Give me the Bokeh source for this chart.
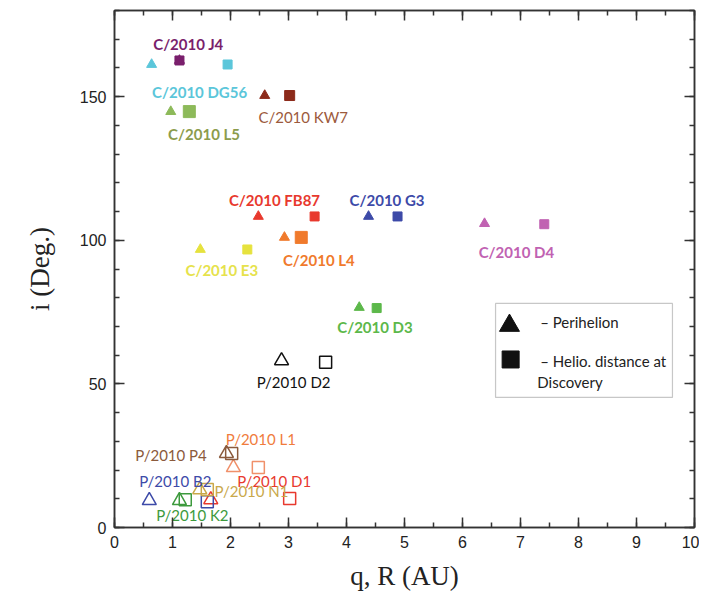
from bokeh.plotting import figure
from bokeh.models import LinearAxis, Range1d, Label, BoxAnnotation, ColumnDataSource, SingleIntervalTicker
from bokeh.core.properties import value
from bokeh.embed import file_html
from bokeh.resources import INLINE

# ---------------- data ----------------
comets = ["C/2010 J4", "C/2010 DG56", "C/2010 KW7", "C/2010 L5", "C/2010 FB87",
          "C/2010 G3", "C/2010 L4", "C/2010 E3", "C/2010 D4", "C/2010 D3",
          "P/2010 D2", "P/2010 P4", "P/2010 L1", "P/2010 B2", "P/2010 D1",
          "P/2010 N1", "P/2010 K2"]
q_perihelion = [1.12, 0.64, 2.59, 0.97, 2.48, 4.38, 2.93, 1.48, 6.38, 4.22,
                2.88, 1.93, 2.05, 0.60, 1.66, 1.47, 1.12]
i_at_q = [162.6, 161.2, 150.4, 144.8, 108.3, 108.3, 101.0, 96.8, 105.8, 76.6,
          58.1, 25.8, 20.9, 9.4, 9.7, 13.2, 9.4]
r_discovery = [1.12, 1.95, 3.02, 1.29, 3.45, 4.88, 3.22, 2.29, 7.41, 4.52,
               3.64, 2.02, 2.48, 1.60, 3.02, 1.60, 1.22]
i_at_r = [162.6, 161.2, 150.4, 144.8, 108.3, 108.3, 101.0, 96.8, 105.6, 76.4,
          57.5, 25.8, 20.9, 9.0, 10.1, 13.2, 9.7]

x_ticks = list(range(0, 11))
y_ticks = [0, 50, 100, 150]

# ---------------- styles ----------------
marker_color = {
    "C/2010 J4": "#7a1f6c", "C/2010 DG56": "#5bc6da", "C/2010 KW7": "#8c2a1a",
    "C/2010 L5": "#8dba5a", "C/2010 FB87": "#e8392e", "C/2010 G3": "#3d4aa8",
    "C/2010 L4": "#f07a2c", "C/2010 E3": "#e6e23e", "C/2010 D4": "#c162b2",
    "C/2010 D3": "#5cb84a", "P/2010 D2": "#111111", "P/2010 P4": "#8b5a3c",
    "P/2010 L1": "#f0906a", "P/2010 B2": "#3d4aa8", "P/2010 D1": "#e8392e",
    "P/2010 N1": "#c9a84a", "P/2010 K2": "#3d9a3d",
}
label_color = dict(marker_color)
label_color.update({"C/2010 KW7": "#9c5a3c", "C/2010 L5": "#8c9c4c",
                    "P/2010 L1": "#f07c3c", "C/2010 E3": "#e6e24c",
                    "P/2010 D2": "#111111"})
# label offsets (screen px) from the midpoint of the two markers
label_offset = {
    "C/2010 J4": (9, -16), "C/2010 DG56": (10, 28), "C/2010 KW7": (26, 21),
    "C/2010 L5": (24, 22), "C/2010 FB87": (-12, -16), "C/2010 G3": (4, -16),
    "C/2010 L4": (26, 23), "C/2010 E3": (-2, 21), "C/2010 D4": (2, 28),
    "C/2010 D3": (7, 19), "P/2010 D2": (-10, 21), "P/2010 P4": (-58, 2),
    "P/2010 L1": (15, -28), "P/2010 B2": (-3, -20), "P/2010 D1": (24, -18),
    "P/2010 N1": (48, 1), "P/2010 K2": (10, 15),
}
sq_size = {"C/2010 L4": 12, "C/2010 L5": 12, "C/2010 KW7": 10}

FONT = "Lato"
SERIF = "Liberation Serif"

p = figure(frame_width=580, frame_height=517,
           x_range=Range1d(0, 10), y_range=Range1d(0, 180),
           output_backend="svg", toolbar_location=None,
           min_border_left=114, min_border_top=10, min_border_right=5,
           min_border_bottom=65, background_fill_color="white",
           border_fill_color="white")
p.xgrid.visible = False
p.ygrid.visible = False
p.outline_line_color = "#333333"
p.outline_line_width = 1.5

p.xaxis.ticker = SingleIntervalTicker(interval=1, num_minor_ticks=2)
p.yaxis.ticker = SingleIntervalTicker(interval=50, num_minor_ticks=5)

def style_axis(ax, show_labels=True):
    ax.major_tick_in = 10
    ax.major_tick_out = 0
    ax.minor_tick_in = 5
    ax.minor_tick_out = 0
    ax.axis_line_color = "#333333"
    ax.axis_line_width = 1.5
    ax.major_tick_line_color = "#333333"
    ax.major_tick_line_width = 1.5
    ax.minor_tick_line_color = "#333333"
    ax.minor_tick_line_width = 1.5
    if show_labels:
        ax.major_label_text_font = "Liberation Sans"
        ax.major_label_text_font_size = "16px"
        ax.major_label_text_color = "#222222"
        ax.major_label_standoff = 8
    else:
        ax.major_label_text_font_size = "1px"
        ax.major_label_text_color = None
        ax.major_label_standoff = 0

for ax in p.xaxis + p.yaxis:
    style_axis(ax)

p.xaxis.axis_label = "q, R (AU)"
p.yaxis.axis_label = "i (Deg.)"
for ax in p.xaxis + p.yaxis:
    ax.axis_label_text_font = SERIF
    ax.axis_label_text_font_size = "27px"
    ax.axis_label_text_font_style = "normal"
    ax.axis_label_text_color = "#222222"
p.xaxis.axis_label_standoff = 10
p.yaxis.axis_label_standoff = 22

top_ax = LinearAxis(ticker=SingleIntervalTicker(interval=1, num_minor_ticks=2))
right_ax = LinearAxis(ticker=SingleIntervalTicker(interval=50, num_minor_ticks=5))
style_axis(top_ax, False)
style_axis(right_ax, False)
p.add_layout(top_ax, "above")
p.add_layout(right_ax, "right")

# ---------------- markers ----------------
filled = [k for k, n in enumerate(comets) if n.startswith("C/")]
hollow = [k for k, n in enumerate(comets) if n.startswith("P/")]

def src(idx, xs, ys, sizes):
    return ColumnDataSource(dict(
        x=[xs[k] for k in idx], y=[ys[k] for k in idx],
        c=[marker_color[comets[k]] for k in idx],
        s=[sizes(comets[k]) for k in idx]))

p.scatter("x", "y", source=src(filled, q_perihelion, i_at_q, lambda n: 10),
          marker="triangle", size="s", fill_color="c", line_color="c")
p.scatter("x", "y", source=src(filled, r_discovery, i_at_r, lambda n: sq_size.get(n, 9)),
          marker="square", size="s", fill_color="c", line_color="c")
p.scatter("x", "y", source=src(hollow, q_perihelion, i_at_q, lambda n: 14),
          marker="triangle", size="s", fill_color=None, line_color="c", line_width=1.5)
p.scatter("x", "y", source=src(hollow, r_discovery, i_at_r, lambda n: 12),
          marker="square", size="s", fill_color=None, line_color="c", line_width=1.5)

# ---------------- labels ----------------
def lab_src(bold):
    idx = [k for k, n in enumerate(comets)
           if (n.startswith("C/") and n != "C/2010 KW7") == bold]
    return ColumnDataSource(dict(
        x=[(q_perihelion[k] + r_discovery[k]) / 2 for k in idx],
        y=[(i_at_q[k] + i_at_r[k]) / 2 for k in idx],
        t=[comets[k] for k in idx],
        c=[label_color[comets[k]] for k in idx],
        dx=[label_offset[comets[k]][0] for k in idx],
        dy=[label_offset[comets[k]][1] for k in idx]))

for bold in (True, False):
    p.text("x", "y", text="t", source=lab_src(bold), x_offset="dx", y_offset="dy",
           text_color="c", text_font=value(FONT), text_font_size="15px",
           text_font_style="bold" if bold else "normal",
           text_align="center", text_baseline="middle")

# ---------------- legend (drawn by hand) ----------------
p.add_layout(BoxAnnotation(left=6.57, right=9.62, top=78.0, bottom=45.3,
                           fill_color=None, line_color="#444444", line_width=1.2))
p.scatter([6.81], [70.3], marker="triangle", size=20, color="#111111")
p.scatter([6.83], [58.5], marker="square", size=17, color="#111111")
for txt, lx, ly in [("– Perihelion", 7.34, 71.7),
                    ("– Helio. distance at", 7.34, 57.8),
                    ("Discovery", 7.29, 50.5)]:
    p.add_layout(Label(x=lx, y=ly, text=txt, text_font=FONT, text_font_size="15px",
                       text_color="#222222", text_baseline="middle"))

open("out.html", "w").write(file_html(p, INLINE))
